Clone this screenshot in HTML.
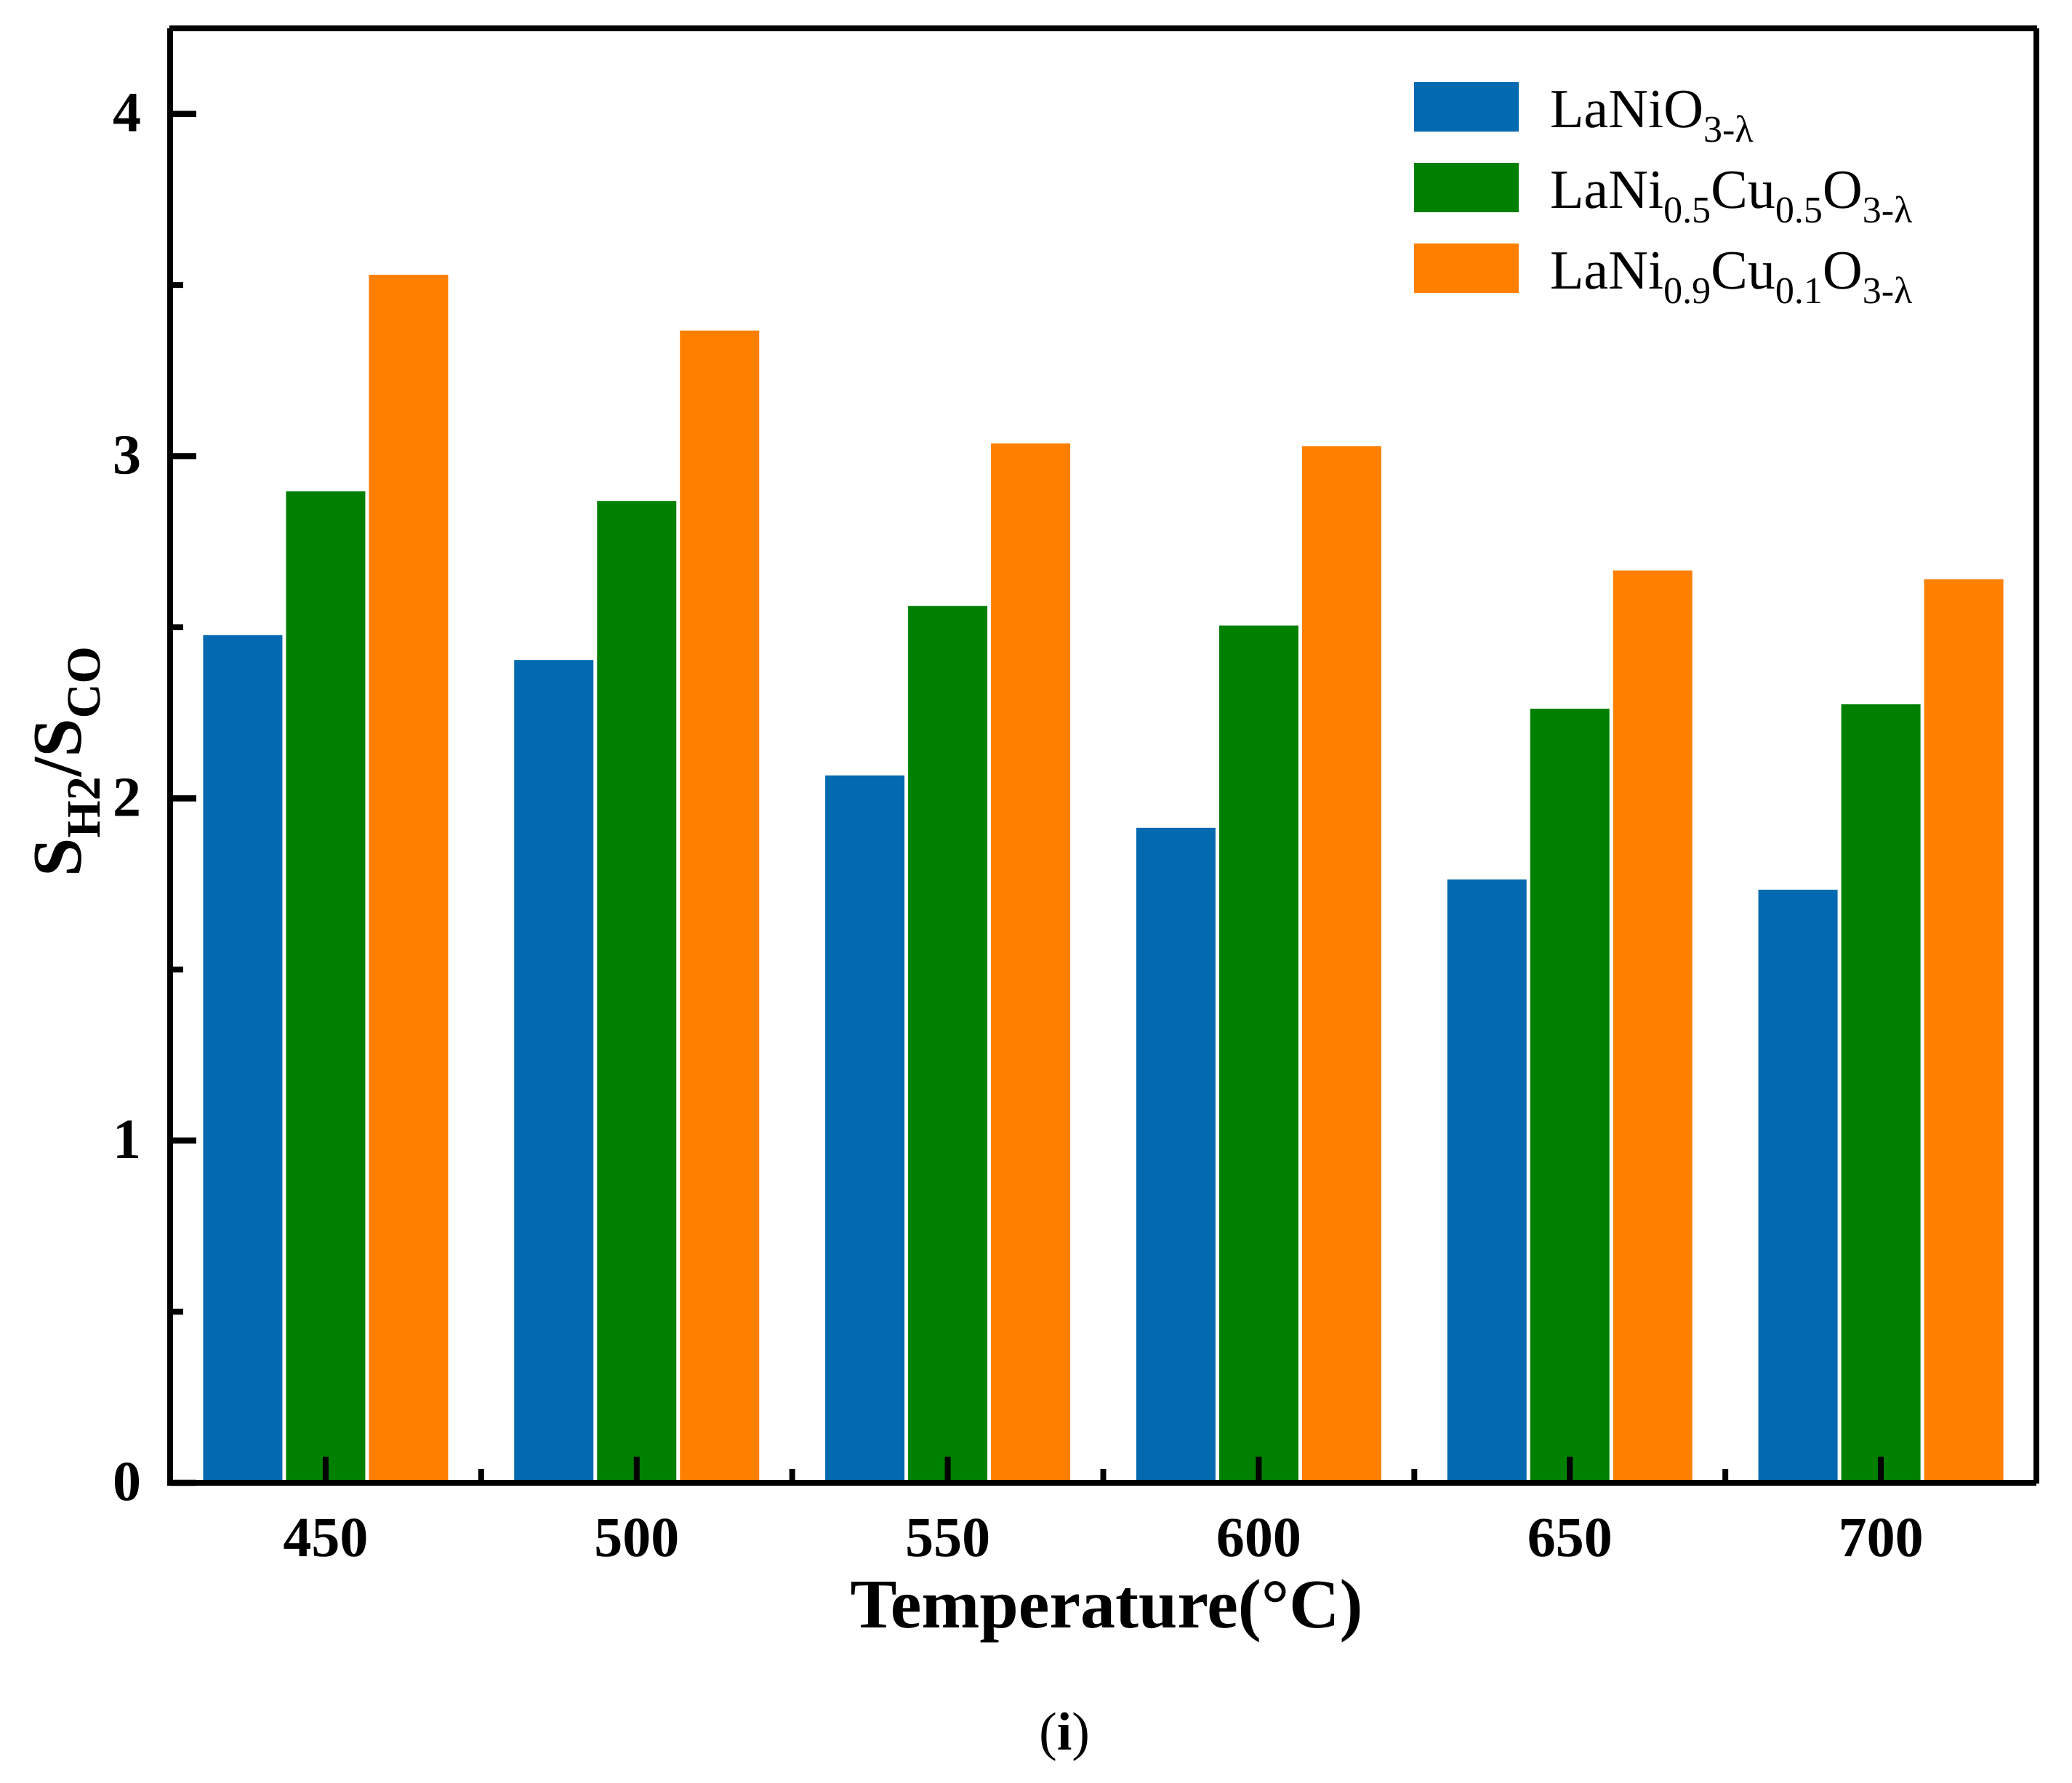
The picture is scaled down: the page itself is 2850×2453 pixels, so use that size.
<!DOCTYPE html>
<html lang="en">
<head>
<meta charset="utf-8">
<title>SH2/SCO selectivity ratio vs temperature</title>
<style>
  html, body { margin: 0; padding: 0; background: #ffffff; }
  body { width: 2850px; height: 2453px; overflow: hidden; }
  svg { display: block; }
  text { font-family: "Liberation Serif", "DejaVu Serif", serif; fill: #000; text-rendering: geometricPrecision; }
  .b { font-weight: bold; }
</style>
</head>
<body>
<svg id="chart" xmlns="http://www.w3.org/2000/svg" width="2850" height="2453" viewBox="0 0 2850 2453">
  <rect x="0" y="0" width="2850" height="2453" fill="#ffffff"/>
  <g id="bars"></g>
  <g id="axes">
    <line x1="233" y1="39" x2="2802" y2="39" stroke="#000" stroke-width="8"/>
    <line x1="2801" y1="39" x2="2801" y2="2041" stroke="#000" stroke-width="8"/>
    <line x1="230" y1="2040" x2="2801" y2="2040" stroke="#000" stroke-width="8"/>
    <line x1="234" y1="39" x2="234" y2="2044" stroke="#000" stroke-width="8"/>
  </g>
  <g id="ticks"></g>

  <text class="b" x="1522" y="2239" font-size="96" text-anchor="middle">Temperature(°C)</text>

  <text class="b" transform="translate(111,1206) rotate(-90)" font-size="96">S<tspan font-size="66" dy="26">H2</tspan><tspan dy="-26">/S</tspan><tspan font-size="66" dy="26">CO</tspan></text>

  <text x="1464" y="2407" font-size="74" text-anchor="middle">(<tspan class="b">i</tspan>)</text>

  <g id="legend">
    <g>
      <rect x="1945" y="113" width="144" height="68" fill="#0369b0"/>
      <text x="2132" y="175" font-size="76">LaNiO<tspan font-size="52" dy="20">3-λ</tspan></text>
    </g>
    <g>
      <rect x="1945" y="224" width="144" height="68" fill="#008000"/>
      <text x="2132" y="286" font-size="76">LaNi<tspan font-size="52" dy="20">0.5</tspan><tspan dy="-20">Cu</tspan><tspan font-size="52" dy="20">0.5</tspan><tspan dy="-20">O</tspan><tspan font-size="52" dy="20">3-λ</tspan></text>
    </g>
    <g>
      <rect x="1945" y="335" width="144" height="68" fill="#ff8000"/>
      <text x="2132" y="397" font-size="76">LaNi<tspan font-size="52" dy="20">0.9</tspan><tspan dy="-20">Cu</tspan><tspan font-size="52" dy="20">0.1</tspan><tspan dy="-20">O</tspan><tspan font-size="52" dy="20">3-λ</tspan></text>
    </g>
  </g>
</svg>
<script>
const temperatures = ["450", "500", "550", "600", "650", "700"];
const laNiO3 = [2.477, 2.404, 2.067, 1.914, 1.763, 1.733];
const laNi05Cu05O3 = [2.897, 2.869, 2.562, 2.505, 2.262, 2.275];
const laNi09Cu01O3 = [3.530, 3.367, 3.037, 3.029, 2.666, 2.640];
const yMajorTicks = [0, 1, 2, 3, 4];
const yMinorTicks = [0.5, 1.5, 2.5, 3.5];

const SVG_NS = "http://www.w3.org/2000/svg";
const plotLeft = 234, plotRight = 2801, plotBottom = 2040, plotTop = 39;
const yMax = 4.25;
const barWidth = 109, barStep = 114;
const seriesColors = ["#0369b0", "#008000", "#ff8000"];
const seriesNames = ["lanio3", "lani05cu05o3", "lani09cu01o3"];

function yScale(v) {
  return plotBottom - (v / yMax) * (plotBottom - plotTop);
}
function xBand() {
  return (plotRight - plotLeft) / temperatures.length;
}
function xScale(i) {
  return plotLeft + xBand() * (i + 0.5);
}
function make(tag, attrs) {
  const el = document.createElementNS(SVG_NS, tag);
  for (const k in attrs) el.setAttribute(k, attrs[k]);
  return el;
}

const barsGroup = document.getElementById("bars");
const ticksGroup = document.getElementById("ticks");
const allSeries = [laNiO3, laNi05Cu05O3, laNi09Cu01O3];

allSeries.forEach(function (values, s) {
  values.forEach(function (v, i) {
    const top = yScale(v);
    const rect = make("rect", {
      x: xScale(i) + (s - 1) * barStep - barWidth / 2,
      y: top,
      width: barWidth,
      height: plotBottom - top,
      fill: seriesColors[s]
    });
    
    
    barsGroup.appendChild(rect);
  });
});

temperatures.forEach(function (t, i) {
  const cx = xScale(i);
  const tick = make("line", { x1: cx, x2: cx, y1: plotBottom, y2: plotBottom - 36, stroke: "#000", "stroke-width": 8 });
  
  
  ticksGroup.appendChild(tick);

  const label = make("text", { x: cx, y: 2141, "font-size": 78, "text-anchor": "middle", "class": "b" });
  label.textContent = t;
  
  
  ticksGroup.appendChild(label);

  if (i < temperatures.length - 1) {
    const mx = cx + xBand() / 2;
    const minor = make("line", { x1: mx, x2: mx, y1: plotBottom, y2: plotBottom - 19, stroke: "#000", "stroke-width": 8 });
    
    
    ticksGroup.appendChild(minor);
  }
});

yMajorTicks.forEach(function (v) {
  const y = yScale(v);
  const tick = make("line", { x1: plotLeft, x2: plotLeft + 36, y1: y, y2: y, stroke: "#000", "stroke-width": 8.5 });
  
  
  ticksGroup.appendChild(tick);

  const label = make("text", { x: 194, y: y + 24, "font-size": 78, "text-anchor": "end", "class": "b" });
  label.textContent = String(v);
  
  
  ticksGroup.appendChild(label);
});

yMinorTicks.forEach(function (v) {
  const y = yScale(v);
  const minor = make("line", { x1: plotLeft, x2: plotLeft + 18, y1: y, y2: y, stroke: "#000", "stroke-width": 8 });
  
  
  ticksGroup.appendChild(minor);
});
</script>
</body>
</html>
